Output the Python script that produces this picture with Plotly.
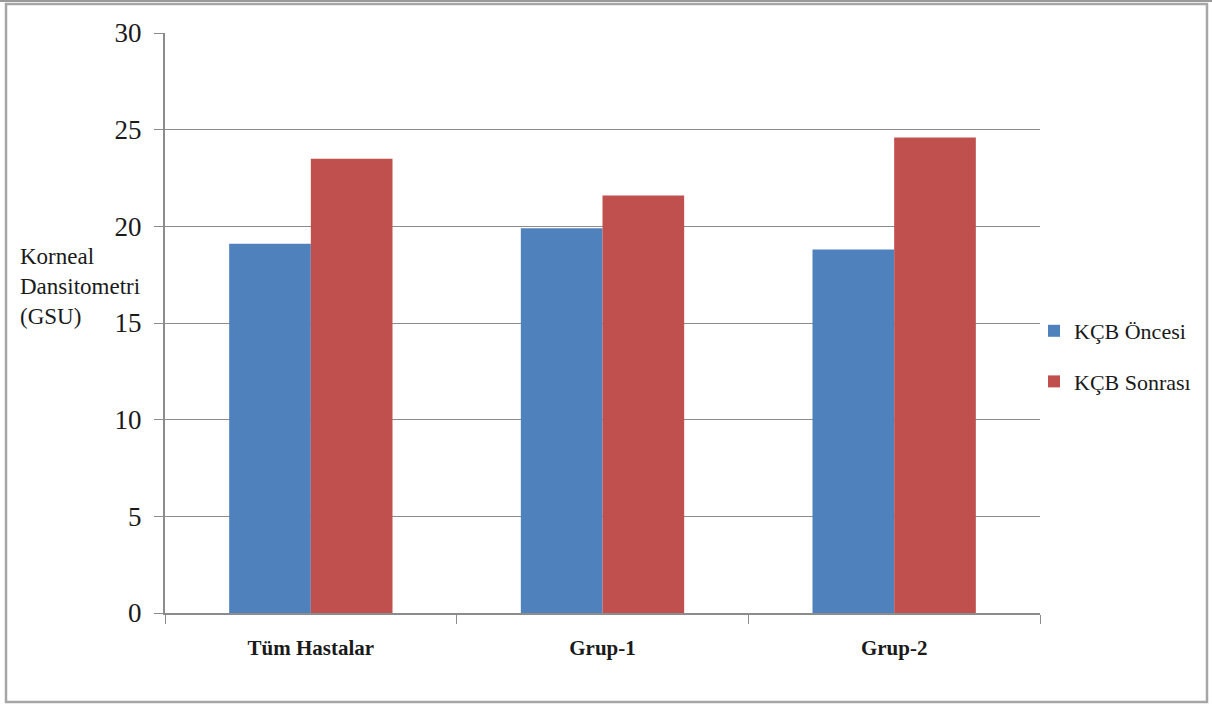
import plotly.graph_objects as go

categories = ["Tüm Hastalar", "Grup-1", "Grup-2"]
oncesi = [19.1, 19.9, 18.8]
sonrasi = [23.5, 21.6, 24.6]
series_names = ["KÇB Öncesi", "KÇB Sonrası"]
y_ticks = [0, 5, 10, 15, 20, 25, 30]

W, H = 1212, 706
L, R, T, B = 165, 172, 33, 93
pw, ph = W - L - R, H - T - B

def px_x(p):
    return (p - L) / pw

def px_y(p):
    return (H - B - p) / ph

font_family = "Liberation Serif"
txt = "#1a1a1a"

fig = go.Figure()
fig.add_trace(go.Bar(x=categories, y=oncesi, name=series_names[0], legendgroup="a",
                     marker=dict(color="#4F81BD", line=dict(width=0))))
fig.add_trace(go.Bar(x=categories, y=sonrasi, name=series_names[1], legendgroup="b",
                     marker=dict(color="#C0504D", line=dict(width=0))))

fig.update_layout(
    width=W, height=H,
    margin=dict(l=L, r=R, t=T, b=B),
    paper_bgcolor="white", plot_bgcolor="white",
    barmode="group", bargap=0.44, bargroupgap=0,
    font=dict(family=font_family, color=txt),
    showlegend=True,
    legend=dict(x=px_x(1034), y=px_y(310), xanchor="left", yanchor="top",
                font=dict(size=22, family=font_family, color=txt), tracegroupgap=19,
                traceorder="grouped",
                itemsizing="constant", bgcolor="rgba(0,0,0,0)"),
    xaxis=dict(showgrid=False, showline=True, linecolor="#8c8c8c", linewidth=2,
               ticks="outside", tickson="boundaries", ticklen=9, tickcolor="#8c8c8c",
               tickwidth=1, tickfont=dict(size=21, family=font_family, color=txt, weight="bold"),
               ticklabelstandoff=15),
    yaxis=dict(range=[0, 30], tickvals=y_ticks, showgrid=True, gridcolor="#8c8c8c",
               gridwidth=1, showline=True, linecolor="#8c8c8c", linewidth=2,
               ticks="outside", ticklen=9, tickcolor="#8c8c8c", tickwidth=1,
               tickfont=dict(size=27, family=font_family, color=txt),
               zeroline=False, ticklabelstandoff=7),
    annotations=[dict(text="Korneal<br>Dansitometri<br>(GSU)", xref="paper", yref="paper",
                      x=px_x(18), y=px_y(242), xanchor="left", yanchor="top",
                      align="left", showarrow=False,
                      font=dict(size=23, family=font_family, color=txt))],
    shapes=[
        dict(type="rect", xref="paper", yref="paper",
             x0=px_x(6), x1=px_x(1207), y0=px_y(702), y1=px_y(4),
             line=dict(color="#a6a6a6", width=2.5), layer="below"),
        dict(type="line", xref="paper", yref="paper",
             x0=px_x(0), x1=px_x(1212), y0=px_y(1), y1=px_y(1),
             line=dict(color="#9a9a9a", width=2), layer="below"),
    ],
)

fig.write_html("out.html")
